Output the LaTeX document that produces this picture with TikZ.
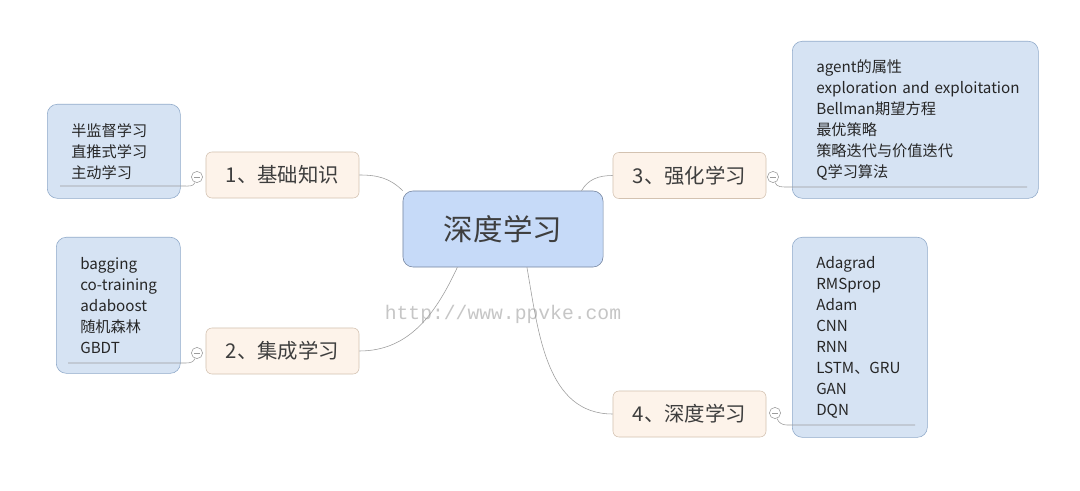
\documentclass[tikz,border=0pt]{standalone}
\usepackage{fontspec}
\setmainfont{Noto Sans CJK SC}
\setmonofont{Liberation Mono}
\usetikzlibrary{positioning}
\definecolor{centrefill}{HTML}{C6DAF8}
\definecolor{centredraw}{HTML}{74849F}
\definecolor{branchfill}{HTML}{FDF3EA}
\definecolor{branchdraw}{HTML}{D3C2B1}
\definecolor{leaffill}{HTML}{D6E3F3}
\definecolor{leafdraw}{HTML}{8FA9C9}
\definecolor{linegray}{HTML}{9C9C9C}
\definecolor{textgray}{HTML}{3E3E3E}
\begin{document}
\begin{tikzpicture}[x=0.025cm,y=0.025cm,
  centre/.style={draw=centredraw, fill=centrefill, rounded corners=0.25cm, minimum width=5cm, minimum height=1.9cm, font=\fontsize{21}{25}\selectfont, text=textgray},
  branch/.style={draw=branchdraw, fill=branchfill, rounded corners=0.15cm, minimum width=3.825cm, minimum height=1.15cm, font=\fontsize{14.5}{17}\selectfont, text=textgray},
  leaf/.style={draw=leafdraw, fill=leaffill, rounded corners=0.25cm, anchor=north west, align=left, inner xsep=0.6cm, inner ysep=0pt, font=\fontsize{10.8}{14.9}\selectfont, text=black!85},
  marker/.style={circle, draw=linegray, fill=white, minimum size=0.28cm, inner sep=0pt,
    path picture={\draw[linegray] ([xshift=-0.08cm]path picture bounding box.center) -- ([xshift=0.08cm]path picture bounding box.center);}},
  link/.style={draw=linegray, thin}]
\useasboundingbox[fill=white] (0,0) rectangle (1080,-491);

\node[centre] (root) at (503,-229) {深度学习};
\node[branch] (b1) at (282.5,-175) {1、基础知识};
\node[branch] (b2) at (282.5,-351) {2、集成学习};
\node[branch] (b3) at (689.5,-175.5) {3、强化学习};
\node[branch] (b4) at (689.5,-414) {4、深度学习};

\node[leaf, text width=2.125cm, minimum height=2.35cm] (l1) at (47,-104) {半监督学习\\直推式学习\\主动学习};
\node[leaf, text width=1.9cm, minimum height=3.4cm] (l2) at (56,-237) {bagging\\\mbox{co-training}\\adaboost\\随机森林\\GBDT};
\node[leaf, text width=4.95cm, minimum height=3.925cm] (l3) at (792,-41) {agent的属性\\\mbox{exploration and exploitation}\\Bellman期望方程\\最优策略\\策略迭代与价值迭代\\Q学习算法};
\node[leaf, text width=2.175cm, minimum height=5cm] (l4) at (792,-237) {Adagrad\\RMSprop\\Adam\\CNN\\RNN\\LSTM、GRU\\GAN\\DQN};

\node[text=gray!45, font=\ttfamily\fontsize{14}{16}\selectfont] (mark) at (503,-314) {http://www.ppvke.com};

\draw[link] (b1.east) to[out=0,in=135] (root.north west);
\draw[link] (b2.east) to[out=0,in=-115] (root.-140);
\draw[link] (b3.west) to[out=180,in=60] (root.26);
\draw[link] (b4.west) to[out=180,in=-80] (root.-58);

\coordinate (u1) at (60,-186);
\coordinate (u2) at (68,-363);
\coordinate (u3) at (1027,-187);
\coordinate (u4) at (915,-425);
\node[marker] (m1) at (197,-177) {};
\node[marker] (m2) at (197,-353) {};
\node[marker] (m3) at (773,-177) {};
\node[marker] (m4) at (775,-413) {};
\draw[link] (u1) -- ++(124,0) to[out=0,in=-110] (m1);
\draw[link] (u2) -- ++(118,0) to[out=0,in=-110] (m2);
\draw[link] (u3) -- ++(-240,0) to[out=180,in=-70] (m3);
\draw[link] (u4) -- ++(-128,0) to[out=180,in=-70] (m4);
\end{tikzpicture}
\end{document}
